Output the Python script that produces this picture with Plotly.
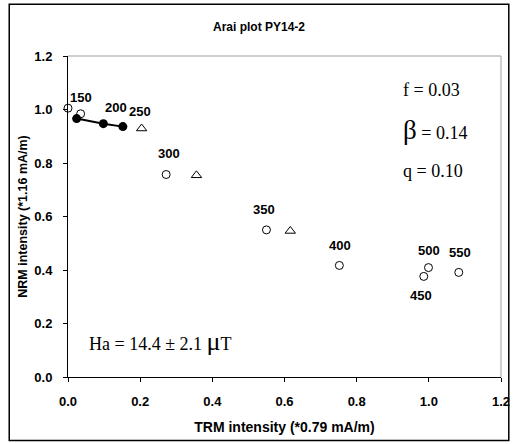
import plotly.graph_objects as go

# NRM/TRM pairs for each heating step (normalised)
trm_open = [0.0, 0.035, 0.272, 0.550, 0.752, 0.986, 0.999, 1.083]
nrm_open = [1.005, 0.984, 0.757, 0.550, 0.417, 0.376, 0.409, 0.391]

# Steps used in the fit
trm_fit = [0.024, 0.098, 0.152]
nrm_fit = [0.966, 0.947, 0.936]

# pTRM checks
trm_check = [0.204, 0.356, 0.616]
nrm_check = [0.929, 0.754, 0.546]

# Step labels: text, anchor position and vertical offset in px
step_labels = ["150", "200", "250", "300", "350", "400", "450", "500", "550"]
label_x = [0.035, 0.134, 0.20, 0.281, 0.543, 0.754, 0.977, 1.001, 1.085]
label_y = [0.984, 0.947, 0.929, 0.757, 0.550, 0.417, 0.376, 0.409, 0.391]
label_dy = [16, 16, 17, 21, 20, 20, -19, 17, 20]

x_ticks = [0.0, 0.2, 0.4, 0.6, 0.8, 1.0, 1.2]
y_ticks = [0.0, 0.2, 0.4, 0.6, 0.8, 1.0, 1.2]

fig = go.Figure()

fig.add_trace(go.Scatter(
    x=trm_fit, y=nrm_fit, mode="lines+markers",
    line=dict(color="black", width=2),
    marker=dict(symbol="circle", size=9, color="black"),
    cliponaxis=False, showlegend=False,
))
fig.add_trace(go.Scatter(
    x=trm_open, y=nrm_open, mode="markers",
    marker=dict(symbol="circle-open", size=8, color="black", line=dict(width=1)),
    cliponaxis=False, showlegend=False,
))
fig.add_trace(go.Scatter(
    x=trm_check, y=nrm_check, mode="markers",
    marker=dict(symbol="triangle-up-open", size=9, color="black", line=dict(width=1)),
    cliponaxis=False, showlegend=False,
))

sans = "Arial, Liberation Sans, sans-serif"
bold = dict(family=sans, size=12, color="black")
label_font = dict(family=sans, size=13, color="black")
serif = dict(family="Times New Roman, Liberation Serif, serif", size=18, color="black")

annotations = []
for t, x, y, dy in zip(step_labels, label_x, label_y, label_dy):
    annotations.append(dict(x=x, y=y, text=f"<b>{t}</b>", showarrow=False,
                            yshift=dy, font=label_font))

annotations += [
    dict(xref="paper", yref="paper", x=0.441, y=1.0, yanchor="middle", yshift=29,
         text="<b>Arai plot PY14-2</b>", showarrow=False, font=bold),
    dict(x=0.923, y=1.073, xanchor="left", text="f = 0.03", showarrow=False, font=serif),
    dict(x=0.923, y=0.925, xanchor="left",
         text="<span style='font-size:27px'>β</span> = 0.14", showarrow=False, font=serif),
    dict(x=0.923, y=0.769, xanchor="left", text="q = 0.10", showarrow=False, font=serif),
    dict(x=0.053, y=0.134, xanchor="left",
         text="Ha = 14.4 ± 2.1 <span style='font-size:26px'>μ</span>T",
         showarrow=False, font=serif),
]

fig.update_layout(
    width=522, height=444,
    margin=dict(l=68, r=12, t=56, b=65),
    paper_bgcolor="white", plot_bgcolor="white",
    font=bold,
    annotations=annotations,
    xaxis=dict(
        range=[0, 1.2], tickvals=x_ticks, ticktext=[f"<b>{v:.1f}</b>" for v in x_ticks],
        tickfont=label_font, ticklabelstandoff=8,
        showgrid=False, zeroline=False, showline=True, linecolor="black", linewidth=1,
        ticks="outside", ticklen=4, tickcolor="black",
        title=dict(text="<b>TRM intensity (*0.79 mA/m)</b>",
                   font=dict(family=sans, size=14, color="black"), standoff=14),
    ),
    yaxis=dict(
        range=[0, 1.2], tickvals=y_ticks, ticktext=[f"<b>{v:.1f}</b>" for v in y_ticks],
        tickfont=label_font, ticklabelstandoff=8,
        showgrid=False, zeroline=False, showline=True, linecolor="black", linewidth=1,
        ticks="outside", ticklen=4, tickcolor="black",
        title=dict(text="<b>NRM intensity (*1.16 mA/m)</b>",
                   font=dict(family=sans, size=12.5, color="black"), standoff=3),
    ),
    shapes=[
        # plot-area frame on top and right
        dict(type="line", xref="paper", yref="paper", x0=0, x1=1, y0=1, y1=1,
             line=dict(color="#a0a0a0", width=1)),
        dict(type="line", xref="paper", yref="paper", x0=1, x1=1, y0=0, y1=1,
             line=dict(color="#a0a0a0", width=1)),
        # outer chart border
        dict(type="rect", xref="paper", yref="paper",
             x0=-0.1357, x1=1.018, y0=-0.198, y1=1.161,
             line=dict(color="black", width=1.5)),
    ],
)

fig.write_html("out.html")
